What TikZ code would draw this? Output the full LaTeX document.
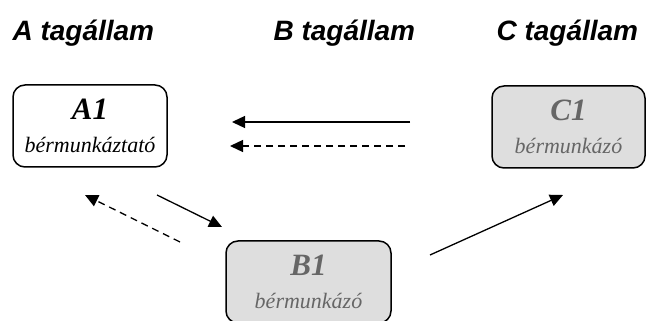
\documentclass[tikz,border=0pt]{standalone}
\usepackage{fontspec}
\setmainfont{Liberation Serif}
\newfontfamily\headfont{Liberation Sans}
\usetikzlibrary{arrows.meta}

\begin{document}
\begin{tikzpicture}[x=1pt, y=1pt, >={Triangle[length=13pt,width=12pt]},
  main/.style = {draw, rounded corners=12pt, line width=1.5pt, minimum height=82pt, align=center, inner sep=0pt, font=\itshape},
  other/.style = {main, fill=black!13, text=black!60},
  head/.style = {anchor=base west, font=\headfont\bfseries\itshape\fontsize{28}{34}\selectfont},
  arr/.style = {->, line width=1.3pt},
  darr/.style = {arr, dash pattern=on 7pt off 5pt}]
\useasboundingbox (0,0) rectangle (656,321);
\node[head] (hA) at (9,280) {A tagállam};
\node[head] (hB) at (270,280) {B tagállam};
\node[head] (hC) at (493,280) {C tagállam};
\node[main, minimum width=154pt] (A1) at (90,195) {{\fontsize{31}{31}\selectfont\bfseries A1}\\[16pt]{\fontsize{22}{22}\selectfont bérmunkáztató}};
\node[other, minimum width=165pt] (B1) at (308.5,39) {{\fontsize{31}{31}\selectfont\bfseries B1}\\[16pt]{\fontsize{22}{22}\selectfont bérmunkázó}};
\node[other, minimum width=153pt] (C1) at (568.5,194) {{\fontsize{31}{31}\selectfont\bfseries C1}\\[16pt]{\fontsize{22}{22}\selectfont bérmunkázó}};
% arrow ends
\coordinate (ca) at (410,199);
\coordinate (ac) at (232,199);
\coordinate (cad) at (405,175);
\coordinate (acd) at (230,175);
\coordinate (ab) at (157,126);
\coordinate (ba) at (222,94);
\coordinate (bad) at (180,79);
\coordinate (abd) at (85,126);
\coordinate (bc) at (430,66);
\coordinate (cb) at (563,126);
\draw[arr] (ca) -- (ac);
\draw[darr] (cad) -- (acd);
\draw[arr] (ab) -- (ba);
\draw[darr] (bad) -- (abd);
\draw[arr] (bc) -- (cb);
\end{tikzpicture}
\end{document}
